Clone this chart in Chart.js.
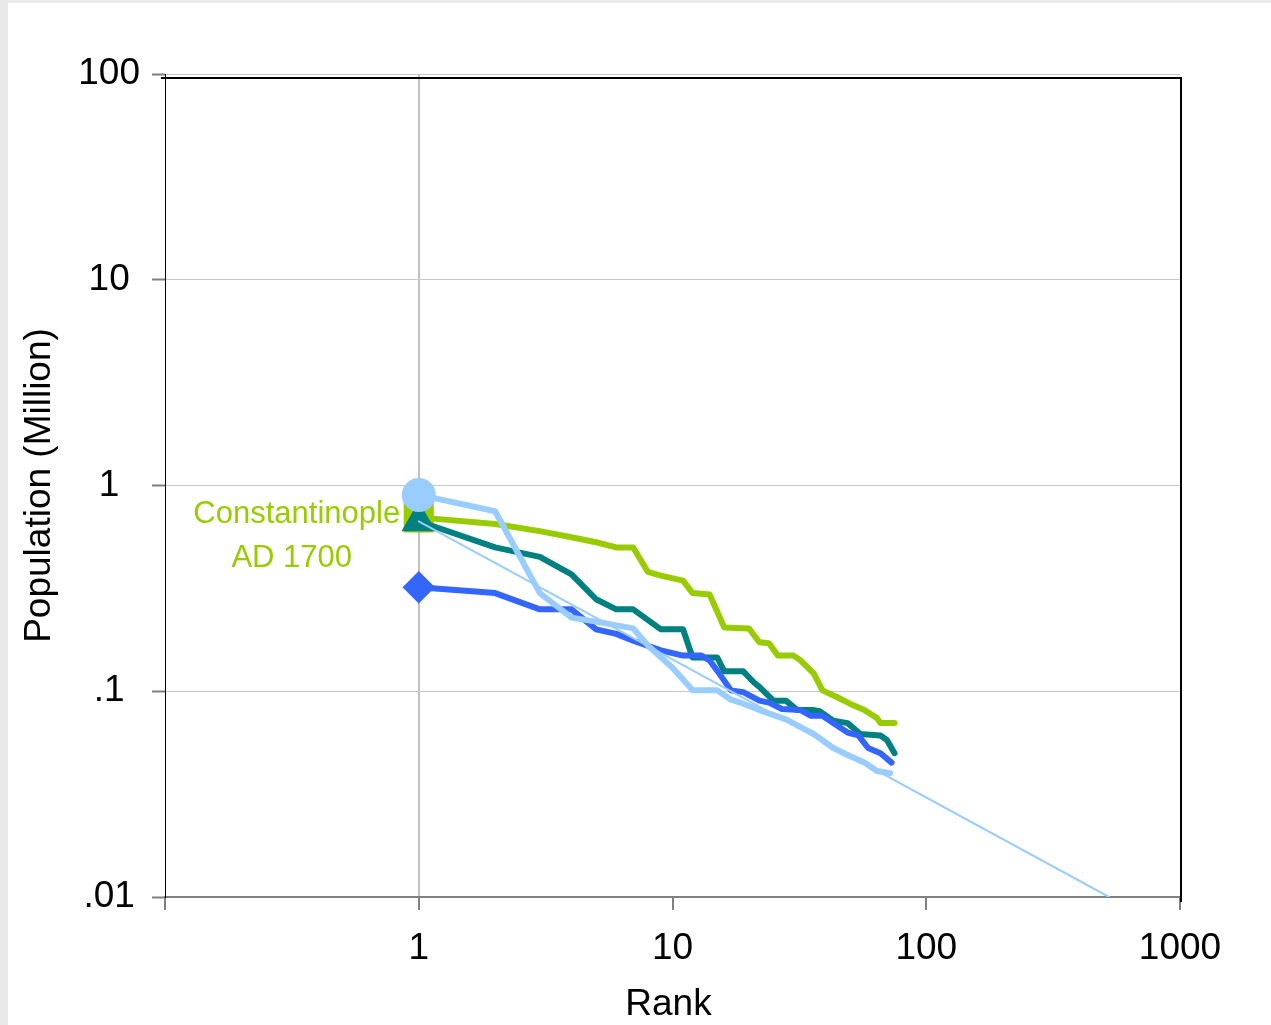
<!DOCTYPE html>
<html>
<head>
<meta charset="utf-8">
<title>Constantinople AD 1700 - rank size</title>
<script src="https://cdn.jsdelivr.net/npm/chart.js@4.4.1/dist/chart.umd.min.js"></script>
<style>
  html, body { margin: 0; padding: 0; background: #fff; }
  #wrap {
    position: absolute; left: 0; top: 0;
    width: 1263px; height: 1022px;
    border-left: 8px solid #e9e9e9;
    border-top: 3px solid #e9e9e9;
    background: #fff;
  }
  canvas { display: block; }
</style>
</head>
<body>
<div id="wrap"><canvas id="chart" width="1263" height="1022"></canvas></div>
<script>
// --- DATOS ---
const rankTicks = [0.1, 1, 10, 100, 1000];
const popTicks = [0.01, 0.1, 1, 10, 100];
const popTickLabels = [".01", ".1", "1", "10", "100"];

// AD 1700 (verde)
const greenRanks = [1, 2, 3, 4, 5, 6, 7, 8, 9, 11, 12, 14, 16, 20, 22, 24, 26, 30, 32, 36, 39, 45, 50, 57, 64, 66, 75];
const greenPop = [0.70, 0.65, 0.60, 0.56, 0.53, 0.50, 0.50, 0.38, 0.365, 0.345, 0.30, 0.295, 0.204, 0.202, 0.173, 0.171, 0.149, 0.149, 0.141, 0.122, 0.101, 0.093, 0.087, 0.081, 0.074, 0.070, 0.070];

// teal
const tealRanks = [1, 2, 3, 4, 5, 6, 7, 9, 11, 12, 15, 16, 19, 21, 22, 25, 28, 31, 36, 38, 43, 49, 55, 66, 70, 75];
const tealPop = [0.67, 0.50, 0.45, 0.37, 0.28, 0.25, 0.25, 0.20, 0.20, 0.146, 0.146, 0.125, 0.125, 0.11, 0.105, 0.09, 0.09, 0.081, 0.081, 0.080, 0.072, 0.070, 0.062, 0.061, 0.058, 0.050];

// azul
const blueRanks = [1, 2, 3, 4, 5, 6, 7, 9, 11, 13, 14, 15, 17, 19, 22, 24, 27, 32, 35, 39, 43, 49, 54, 59, 66, 73];
const bluePop = [0.32, 0.30, 0.25, 0.25, 0.20, 0.19, 0.176, 0.158, 0.149, 0.149, 0.141, 0.126, 0.101, 0.099, 0.090, 0.088, 0.082, 0.081, 0.076, 0.076, 0.070, 0.063, 0.061, 0.053, 0.050, 0.045];

// celeste
const skyRanks = [1, 2, 3, 4, 5, 7, 8, 10, 12, 15, 17, 19, 22, 28, 36, 43, 49, 57, 64, 72];
const skyPop = [0.90, 0.75, 0.30, 0.228, 0.218, 0.202, 0.167, 0.130, 0.101, 0.101, 0.091, 0.087, 0.081, 0.073, 0.062, 0.053, 0.049, 0.045, 0.041, 0.040];

// recta de ajuste
const fitRanks = [1, 525];
const fitPop = [0.67, 0.01];

const FONT = "'Liberation Sans', Arial, sans-serif";
const toXY = (xs, ys) => xs.map((x, i) => ({ x, y: ys[i] }));
const firstOnly = (r) => (ctx) => (ctx.dataIndex === 0 ? r : 0);

// --- MARCO, TITULOS Y ETIQUETA ---
const decorPlugin = {
  id: "decor",
  afterDraw(chart) {
    const { ctx, chartArea: a, scales } = chart;
    ctx.save();
    // marco negro arriba y derecha
    ctx.strokeStyle = "#000";
    ctx.lineWidth = 2;
    ctx.beginPath();
    ctx.moveTo(a.left - 4, a.top + 4);
    ctx.lineTo(a.right + 1, a.top + 4);
    ctx.lineTo(a.right + 1, a.bottom + 5);
    ctx.stroke();

    ctx.fillStyle = "#000";
    ctx.font = `37px ${FONT}`;
    ctx.textAlign = "center";
    ctx.textBaseline = "middle";
    ctx.fillText("Rank", (a.left + a.right) / 2 - 4, 1002);

    ctx.save();
    ctx.translate(32, (a.top + a.bottom) / 2);
    ctx.rotate(-Math.PI / 2);
    ctx.fillText("Population (Million)", 0, 0);
    ctx.restore();

    const x1 = scales.x.getPixelForValue(1);
    const y1 = scales.y.getPixelForValue(0.7);
    ctx.fillStyle = "#99cc00";
    ctx.font = `31px ${FONT}`;
    ctx.fillText("Constantinople", x1 - 122, y1 - 3);
    ctx.fillText("AD 1700", x1 - 127, y1 + 41);
    ctx.restore();
  },
};

new Chart(document.getElementById("chart"), {
  type: "scatter",
  data: {
    datasets: [
      {
        label: "fit",
        data: toXY(fitRanks, fitPop),
        showLine: true,
        borderColor: "#99ccff",
        borderWidth: 2,
        pointRadius: 0,
        order: 0,
      },
      {
        label: "sky",
        data: toXY(skyRanks, skyPop),
        showLine: true,
        borderColor: "#99ccff",
        backgroundColor: "#99ccff",
        borderWidth: 6,
        pointStyle: "circle",
        pointRadius: firstOnly(14),
        order: 1,
      },
      {
        label: "blue",
        data: toXY(blueRanks, bluePop),
        showLine: true,
        borderColor: "#3366ff",
        backgroundColor: "#3366ff",
        borderWidth: 6,
        pointStyle: "rectRot",
        pointRadius: firstOnly(12),
        order: 2,
      },
      {
        label: "teal",
        data: toXY(tealRanks, tealPop),
        showLine: true,
        borderColor: "#008080",
        backgroundColor: "#008080",
        borderWidth: 6,
        pointStyle: "triangle",
        pointRadius: firstOnly(14),
        order: 3,
      },
      {
        label: "AD 1700",
        data: toXY(greenRanks, greenPop),
        showLine: true,
        borderColor: "#99cc00",
        backgroundColor: "#99cc00",
        borderWidth: 6,
        pointStyle: "rect",
        pointRadius: firstOnly(17),
        order: 4,
      },
    ],
  },
  options: {
    responsive: false,
    animation: false,
    devicePixelRatio: 1,
    layout: { padding: { top: 71, right: 91, left: 0, bottom: 0 } },
    plugins: { legend: { display: false }, tooltip: { enabled: false } },
    elements: { line: { tension: 0, borderJoinStyle: "round", borderCapStyle: "round" } },
    scales: {
      x: {
        type: "logarithmic",
        min: 0.1,
        max: 1000,
        afterBuildTicks: (s) => { s.ticks = rankTicks.map((v) => ({ value: v })); },
        afterFit: (s) => { s.height = 128; },
        border: { display: true, color: "#808080", width: 2 },
        grid: {
          color: (c) => (c.tick && c.tick.value === 1 ? "#c0c0c0" : "rgba(0,0,0,0)"),
          lineWidth: 2,
          tickColor: (c) => (c.tick && c.tick.value === 0.1 ? "#000" : "#808080"),
          tickLength: 13,
          tickWidth: (c) => (c.tick && c.tick.value === 0.1 ? 1 : 2),
        },
        ticks: {
          color: "#000",
          font: { family: FONT, size: 37 },
          padding: 17,
          maxRotation: 0,
          autoSkip: false,
          callback: (v) => (v === 0.1 ? "" : String(v)),
        },
      },
      y: {
        type: "logarithmic",
        min: 0.01,
        max: 100,
        afterBuildTicks: (s) => { s.ticks = popTicks.map((v) => ({ value: v })); },
        afterFit: (s) => { s.width = 157; },
        border: { display: true, color: "#000", width: 1 },
        grid: {
          color: (c) => (c.tick && c.tick.value === 0.01 ? "rgba(0,0,0,0)" : "#c8c8c8"),
          lineWidth: 1,
          tickColor: "#808080",
          tickLength: 13,
          tickWidth: 2,
        },
        ticks: {
          color: "#000",
          font: { family: FONT, size: 37 },
          padding: 12,
          crossAlign: "center",
          autoSkip: false,
          callback: (v) => {
            const i = popTicks.indexOf(v);
            return i >= 0 ? popTickLabels[i] : "";
          },
        },
      },
    },
  },
  plugins: [decorPlugin],
});
</script>
</body>
</html>
